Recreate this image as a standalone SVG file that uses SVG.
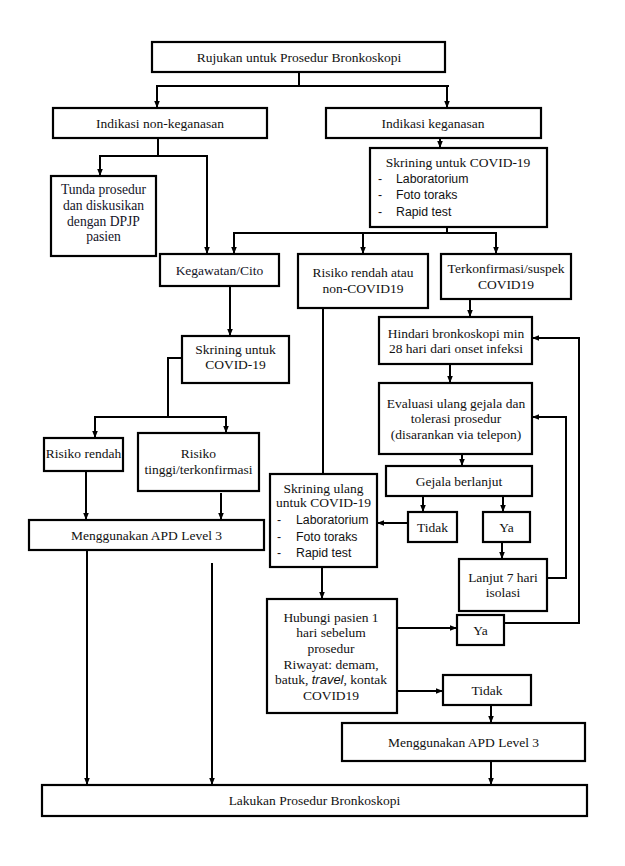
<svg xmlns="http://www.w3.org/2000/svg" width="625" height="866" viewBox="0 0 625 866">
<style>
.box{fill:#fff;stroke:#000;stroke-width:2.2}
.t{font-family:"Liberation Serif","Times New Roman",serif;font-size:13.5px;fill:#111;text-anchor:middle}
.p{font-family:"Liberation Serif","Times New Roman",serif;font-size:13.6px;fill:#141428;text-anchor:middle}
.s{font-family:"Liberation Sans",Arial,sans-serif;font-size:12.3px;fill:#111}
.c line,.c polyline{fill:none;stroke:#000;stroke-width:2}
.a{marker-end:url(#arr)}
</style>
<defs>
<marker id="arr" viewBox="0 0 8 8" refX="8" refY="4" markerWidth="7" markerHeight="7" markerUnits="userSpaceOnUse" orient="auto">
<path d="M0,0.8 L8,4 L0,7.2 z" fill="#000"/>
</marker>
</defs>
<rect width="625" height="866" fill="#fff"/>

<g class="c" id="connectors">
<line x1="299" y1="72" x2="299" y2="86"/>
<line x1="156" y1="86" x2="449" y2="86"/>
<line class="a" x1="157" y1="86" x2="157" y2="108"/>
<line class="a" x1="447" y1="86" x2="447" y2="108"/>
<line x1="158" y1="138" x2="158" y2="156"/>
<line x1="99" y1="156" x2="208" y2="156"/>
<line class="a" x1="100" y1="156" x2="100" y2="176"/>
<line class="a" x1="207" y1="156" x2="207" y2="254"/>
<line class="a" x1="440" y1="138" x2="440" y2="148"/>
<line x1="447" y1="227" x2="447" y2="233"/>
<line x1="233" y1="233" x2="497" y2="233"/>
<line class="a" x1="234" y1="233" x2="234" y2="254"/>
<line class="a" x1="363" y1="233" x2="363" y2="254"/>
<line class="a" x1="496" y1="233" x2="496" y2="254"/>
<line class="a" x1="230" y1="286" x2="230" y2="336"/>
<polyline points="182,358 168,358 168,417"/>
<line x1="94" y1="417" x2="227" y2="417"/>
<line class="a" x1="95" y1="417" x2="95" y2="438"/>
<line class="a" x1="226" y1="417" x2="226" y2="433"/>
<line class="a" x1="86" y1="471" x2="86" y2="520"/>
<line class="a" x1="221" y1="493" x2="221" y2="520"/>
<line class="a" x1="87" y1="550" x2="87" y2="785"/>
<line class="a" x1="212" y1="563" x2="212" y2="785"/>
<line x1="323" y1="308" x2="323" y2="474"/>
<line class="a" x1="470" y1="299" x2="470" y2="317"/>
<line class="a" x1="450" y1="364" x2="450" y2="383"/>
<line class="a" x1="462" y1="454" x2="462" y2="466"/>
<line class="a" x1="423" y1="496" x2="423" y2="512"/>
<line class="a" x1="503" y1="496" x2="503" y2="512"/>
<line class="a" x1="408" y1="523" x2="377" y2="523"/>
<line class="a" x1="502" y1="542" x2="502" y2="559"/>
<polyline class="a" points="547,578 566,578 566,417 532,417"/>
<polyline class="a" points="504,623 579,623 579,338 532,338"/>
<line class="a" x1="322" y1="567" x2="322" y2="599"/>
<line class="a" x1="397" y1="628" x2="457" y2="628"/>
<line class="a" x1="397" y1="691" x2="443" y2="691"/>
<line class="a" x1="491" y1="705" x2="491" y2="723"/>
<line class="a" x1="491" y1="761" x2="491" y2="785"/>
</g>

<g id="n_rujukan"><rect class="box" x="152" y="42" width="293" height="30"/><text class="t" x="299" y="62">Rujukan untuk Prosedur Bronkoskopi</text></g>
<g id="n_nonkeganasan"><rect class="box" x="53" y="108" width="214" height="30"/><text class="t" x="160" y="128">Indikasi non-keganasan</text></g>
<g id="n_keganasan"><rect class="box" x="326" y="108" width="215" height="30"/><text class="t" x="433" y="128">Indikasi keganasan</text></g>
<g id="n_tunda"><rect class="box" x="51" y="176" width="105" height="80"/>
<text class="p" x="103.5" y="194">Tunda prosedur</text>
<text class="p" x="103.5" y="210">dan diskusikan</text>
<text class="p" x="103.5" y="226">dengan DPJP</text>
<text class="p" x="103.5" y="241">pasien</text></g>
<g id="n_skrining1"><rect class="box" x="370" y="148" width="177" height="79"/>
<text class="t" x="458" y="167">Skrining untuk COVID-19</text>
<text class="s" x="378" y="183">-</text><text class="s" x="396" y="183">Laboratorium</text>
<text class="s" x="378" y="199">-</text><text class="s" x="396" y="199">Foto toraks</text>
<text class="s" x="378" y="216">-</text><text class="s" x="396" y="216">Rapid test</text></g>
<g id="n_kegawatan"><rect class="box" x="160" y="254" width="119" height="32"/><text class="p" x="219.5" y="275" style="font-size:13.5px">Kegawatan/Cito</text></g>
<g id="n_risiko_non"><rect class="box" x="298" y="254" width="130" height="54"/>
<text class="t" x="363" y="277">Risiko rendah atau</text>
<text class="t" x="363" y="293">non-COVID19</text></g>
<g id="n_terkonfirmasi"><rect class="box" x="441" y="254" width="130" height="45"/>
<text class="t" x="506" y="273">Terkonfirmasi/suspek</text>
<text class="t" x="506" y="289">COVID19</text></g>
<g id="n_skrining_left"><rect class="box" x="182" y="336" width="107" height="47"/>
<text class="t" x="235.5" y="354">Skrining untuk</text>
<text class="t" x="235.5" y="369">COVID-19</text></g>
<g id="n_hindari"><rect class="box" x="379" y="317" width="153" height="47"/>
<text class="t" x="456" y="338">Hindari bronkoskopi min</text>
<text class="t" x="456" y="353">28 hari dari onset infeksi</text></g>
<g id="n_evaluasi"><rect class="box" x="379" y="383" width="153" height="71"/>
<text class="t" x="456" y="408">Evaluasi ulang gejala dan</text>
<text class="t" x="456" y="423">tolerasi prosedur</text>
<text class="t" x="456" y="439">(disarankan via telepon)</text></g>
<g id="n_risiko_rendah"><rect class="box" x="44" y="438" width="79" height="33"/><text class="t" x="83.5" y="458">Risiko rendah</text></g>
<g id="n_risiko_tinggi"><rect class="box" x="138" y="433" width="121" height="58"/>
<text class="t" x="198.5" y="458">Risiko</text>
<text class="t" x="198.5" y="474">tinggi/terkonfirmasi</text></g>
<g id="n_gejala"><rect class="box" x="386" y="466" width="146" height="30"/><text class="t" x="459" y="486">Gejala berlanjut</text></g>
<g id="n_skrining_ulang"><rect class="box" x="270" y="474" width="107" height="93"/>
<text class="t" x="323.5" y="493">Skrining ulang</text>
<text class="t" x="323.5" y="507">untuk COVID-19</text>
<text class="s" x="277" y="524">-</text><text class="s" x="296" y="524">Laboratorium</text>
<text class="s" x="277" y="541">-</text><text class="s" x="296" y="541">Foto toraks</text>
<text class="s" x="277" y="557">-</text><text class="s" x="296" y="557">Rapid test</text></g>
<g id="n_tidak1"><rect class="box" x="408" y="512" width="49" height="30"/><text class="t" x="432.5" y="532">Tidak</text></g>
<g id="n_ya1"><rect class="box" x="483" y="512" width="47" height="30"/><text class="t" x="506.5" y="532">Ya</text></g>
<g id="n_apd1"><rect class="box" x="29" y="520" width="235" height="30"/><text class="t" x="146.5" y="540">Menggunakan APD Level 3</text></g>
<g id="n_lanjut"><rect class="box" x="459" y="559" width="88" height="52"/>
<text class="t" x="503" y="582">Lanjut 7 hari</text>
<text class="t" x="503" y="597">isolasi</text></g>
<g id="n_hubungi"><rect class="box" x="267" y="599" width="130" height="114"/>
<text class="t" x="331" y="622">Hubungi pasien 1</text>
<text class="t" x="331" y="637">hari sebelum</text>
<text class="t" x="331" y="653">prosedur</text>
<text class="t" x="331" y="669">Riwayat: demam,</text>
<text class="t" x="331" y="684">batuk, <tspan style="font-family:'Liberation Sans',Arial,sans-serif;font-style:italic;font-size:13px">travel</tspan>, kontak</text>
<text class="t" x="331" y="700">COVID19</text></g>
<g id="n_ya2"><rect class="box" x="457" y="615" width="47" height="30"/><text class="t" x="480.5" y="635">Ya</text></g>
<g id="n_tidak2"><rect class="box" x="443" y="675" width="88" height="30"/><text class="t" x="487" y="695">Tidak</text></g>
<g id="n_apd2"><rect class="box" x="342" y="723" width="243" height="38"/><text class="t" x="463.5" y="747">Menggunakan APD Level 3</text></g>
<g id="n_lakukan"><rect class="box" x="42" y="785" width="545" height="31"/><text class="t" x="314.5" y="805">Lakukan Prosedur Bronkoskopi</text></g>
</svg>
